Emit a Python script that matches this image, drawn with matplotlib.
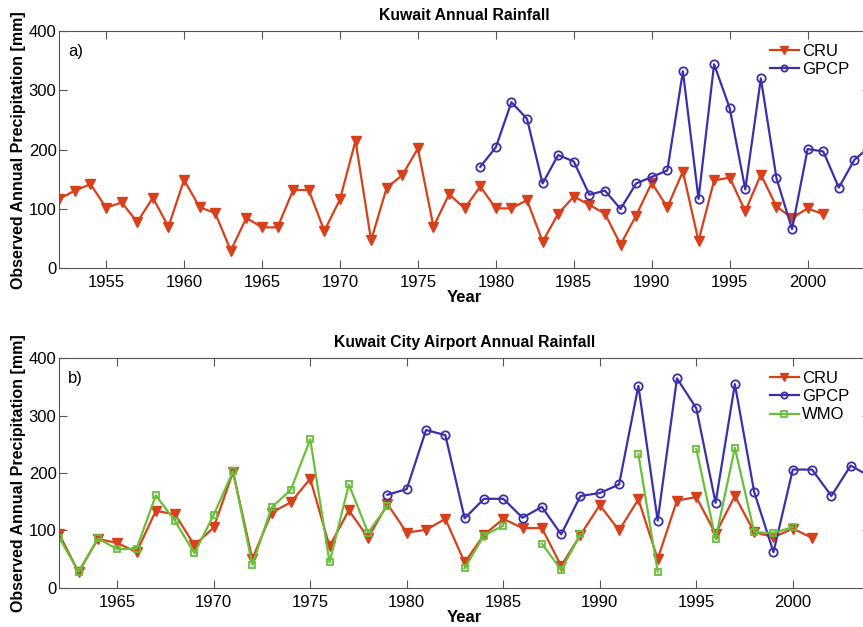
import numpy as np
import matplotlib
matplotlib.use('Agg')
import matplotlib.pyplot as plt

nan = np.nan

# panel a) Kuwait annual rainfall
years_a = np.arange(1952, 2005)
cru_a = [117, 131, 142, 102, 111, 78, 119, 70, 149, 103, 93, 30, 85, 69, 69,
         132, 132, 63, 116, 215, 47, 136, 157, 202, 70, 125, 101, 138, 101,
         101, 115, 45, 92, 121, 107, 92, 40, 89, 144, 103, 163, 46, 148, 153,
         96, 158, 104, 85, 101, 91, nan, nan, nan]
gpcp_a = [nan] * 27 + [171, 204, 280, 252, 143, 191, 180, 124, 131, 100, 143,
                       154, 165, 332, 117, 344, 270, 133, 320, 152, 66, 201,
                       197, 136, 183, 205]

# panel b) Kuwait City Airport annual rainfall
years_b = np.arange(1962, 2005)
cru_b = [93, 27, 85, 78, 62, 134, 128, 74, 105, 202, 50, 131, 149, 190, 72,
         135, 87, 146, 96, 101, 120, 44, 92, 120, 104, 104, 38, 92, 144, 100,
         154, 50, 152, 158, 94, 160, 97, 88, 103, 87, nan, nan, nan]
gpcp_b = [nan] * 17 + [162, 172, 275, 266, 121, 155, 155, 122, 141, 93, 160,
                       165, 180, 352, 117, 365, 313, 148, 355, 167, 62, 206,
                       206, 160, 213, 194]
wmo_b = [87, 28, 86, 67, 68, 161, 116, 60, 127, 203, 40, 140, 171, 259, 44,
         180, 96, 143, nan, nan, nan, 34, 91, 108, nan, 77, 31, 93, nan, nan,
         233, 28, nan, 242, 85, 244, 97, 95, 106, nan, nan, nan, nan]

red = '#d8401c'
blue = '#3a30aa'
green = '#68c03a'

plt.rcParams['font.family'] = ['Liberation Sans', 'DejaVu Sans']

fig = plt.figure(figsize=(8.63, 6.27), dpi=100)
W, H = 863., 627.
# axes run past the right edge of the picture, as in the cropped original
ax1 = fig.add_axes([59.3 / W, 1 - 268.3 / H, (870 - 59.3) / W, 237.3 / H])
ax2 = fig.add_axes([59.3 / W, 1 - 587.7 / H, (870 - 59.3) / W, 229.4 / H])


def style(ax, x0, title, tag):
    ax.set_xlim(x0, 2004)
    ax.set_ylim(0, 400)
    ax.set_yticks([0, 100, 200, 300, 400])
    ax.set_xticks(np.arange((x0 // 5 + 1) * 5, 2004, 5))
    ax.tick_params(direction='in', length=6, width=0.8, color='#555555',
                   labelsize=12, top=True, right=True, pad=5)
    ax.tick_params(axis='y', pad=2)
    for sp in ax.spines.values():
        sp.set_color('#555555')
        sp.set_linewidth(0.8)
    ax.set_title(title, fontsize=11.3, fontweight='bold', pad=8)
    ax.set_xlabel('Year', fontsize=12, fontweight='bold', labelpad=0)
    ax.set_ylabel('Observed Annual Precipitation [mm]', fontsize=11.5,
                  fontweight='bold', labelpad=2)
    ax.text(0.011, 0.945, tag, transform=ax.transAxes, fontsize=12,
            va='top', ha='left')
    ax.legend(loc='upper right', bbox_to_anchor=(0.983, 0.975), frameon=False,
              fontsize=12, handlelength=1.75, handletextpad=0.2,
              labelspacing=0.2, borderaxespad=0, numpoints=1, markerscale=0.75)


ax1.plot(years_a, cru_a, '-v', color=red, lw=1.6, ms=7, mfc=red, mec=red,
         label='CRU')
ax1.plot(years_a, gpcp_a, '-o', color=blue, lw=1.6, ms=6, mfc='none',
         mec=blue, mew=1.3, label='GPCP')
style(ax1, 1952, 'Kuwait Annual Rainfall', 'a)')

ax2.plot(years_b, cru_b, '-v', color=red, lw=1.6, ms=7, mfc=red, mec=red,
         label='CRU')
ax2.plot(years_b, gpcp_b, '-o', color=blue, lw=1.6, ms=6, mfc='none',
         mec=blue, mew=1.3, label='GPCP')
ax2.plot(years_b, wmo_b, '-s', color=green, lw=1.6, ms=5, mfc='none',
         mec=green, mew=1.3, label='WMO')
style(ax2, 1962, 'Kuwait City Airport Annual Rainfall', 'b)')

fig.savefig('out.png', dpi=100)
